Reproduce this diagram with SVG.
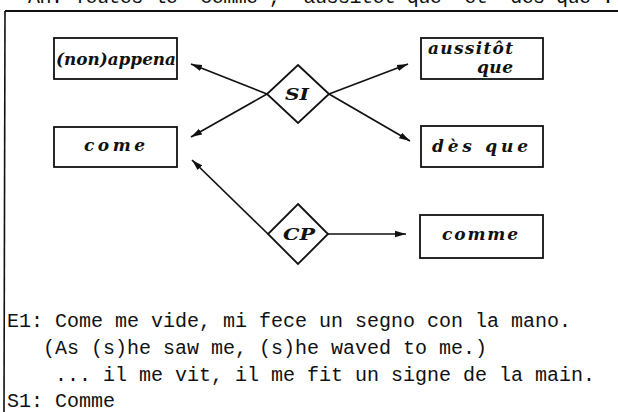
<svg xmlns="http://www.w3.org/2000/svg" width="618" height="412" viewBox="0 0 618 412">
<style>
.box{fill:#fff;stroke:#111;stroke-width:1.8}
.dia{fill:#fff;stroke:#111;stroke-width:1.8}
.lbl{font-family:"DejaVu Serif","Liberation Serif",serif;font-weight:bold;font-style:italic;font-size:17px;fill:#111}
.con{fill:none;stroke:#111;stroke-width:1.7}
.mono{font-family:"Liberation Mono","Courier New",monospace;font-size:20px;fill:#111}
</style>
<defs>
<marker id="ah" markerUnits="userSpaceOnUse" markerWidth="12" markerHeight="8" refX="11" refY="4" orient="auto">
<path d="M0,0.8 L11,4 L0,7.2 Z" fill="#111"/>
</marker>
</defs>
<rect width="618" height="412" fill="#fff"/>
<g id="frame">
<text class="mono" x="28" y="3" textLength="586" lengthAdjust="spacing">An: Toutes le 'comme', 'aussitôt que' et 'dès que'.</text>
<path d="M5,11 L618,11" stroke="#111" stroke-width="1.8" fill="none"/>
<path d="M5,11 L4,412" stroke="#111" stroke-width="1.6" fill="none"/>
</g>
<g id="connectors">
<path class="con" d="M267,94 L191,64" marker-end="url(#ah)"/>
<path class="con" d="M267,94 L191,137" marker-end="url(#ah)"/>
<path class="con" d="M329,94 L408,64" marker-end="url(#ah)"/>
<path class="con" d="M329,94 L410,141" marker-end="url(#ah)"/>
<path class="con" d="M268,234 L192,160" marker-end="url(#ah)"/>
<path class="con" d="M328,234 L406,234" marker-end="url(#ah)"/>
</g>
<g id="n-appena">
<rect class="box" x="54" y="38" width="123" height="41"/>
<text class="lbl" x="56" y="65" font-size="17" textLength="120" lengthAdjust="spacingAndGlyphs">(non)appena</text>
</g>
<g id="n-come">
<rect class="box" x="54" y="127" width="123" height="40"/>
<text class="lbl" x="84" y="151" textLength="61" lengthAdjust="spacing">come</text>
</g>
<g id="n-aussitot">
<rect class="box" x="421" y="38" width="122" height="41"/>
<text class="lbl" x="428" y="54" font-size="15" textLength="85" lengthAdjust="spacing">aussitôt</text>
<text class="lbl" x="477" y="73" font-size="15" textLength="36" lengthAdjust="spacing">que</text>
</g>
<g id="n-desque">
<rect class="box" x="421" y="126" width="122" height="41"/>
<text class="lbl" x="432" y="152" textLength="96" lengthAdjust="spacing">dès que</text>
</g>
<g id="n-comme">
<rect class="box" x="420" y="215" width="123" height="43"/>
<text class="lbl" x="442" y="240" textLength="76" lengthAdjust="spacing">comme</text>
</g>
<g id="n-SI">
<path class="dia" d="M298,65 L329,94 L298,123 L267,94 Z"/>
<text class="lbl" x="285" y="100" font-size="18" textLength="24" lengthAdjust="spacingAndGlyphs">SI</text>
</g>
<g id="n-CP">
<path class="dia" d="M298,204 L328,234 L298,264 L268,234 Z"/>
<text class="lbl" x="283" y="240" font-size="18" textLength="32" lengthAdjust="spacingAndGlyphs">CP</text>
</g>
<g id="example">
<text class="mono" x="7" y="327">E1: Come me vide, mi fece un segno con la mano.</text>
<text class="mono" x="43" y="354">(As (s)he saw me, (s)he waved to me.)</text>
<text class="mono" x="55" y="381">... il me vit, il me fit un signe de la main.</text>
<text class="mono" x="7" y="407">S1: Comme</text>
</g>
</svg>
